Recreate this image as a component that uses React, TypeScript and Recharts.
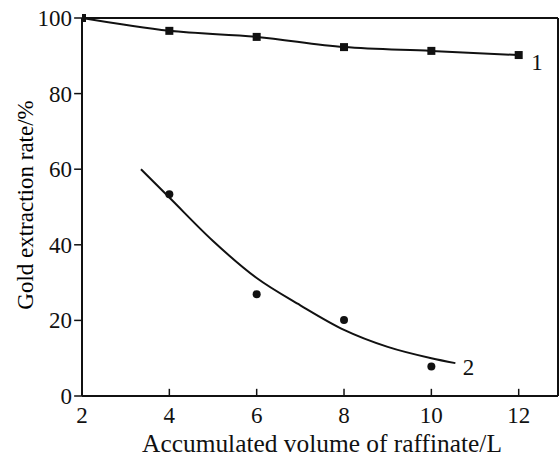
import React from 'react';
import {
  ComposedChart, Line, Scatter, XAxis, YAxis, ReferenceLine, ReferenceDot,
} from 'recharts';

// curve 1: measured points (square markers)
const volume1 = [2, 4, 6, 8, 10, 12];
const rate1 = [100, 96.6, 95.0, 92.3, 91.3, 90.2];

// curve 2: measured points (round markers)
const volume2 = [4, 6, 8, 10];
const rate2 = [53.4, 26.9, 20.1, 7.8];

// curve 2: drawn trend line
const fitVolume = [3.35, 4, 5, 6, 7, 8, 9, 10, 10.55];
const fitRate = [60, 52.5, 41, 31.2, 24, 17.5, 13, 10, 8.7];

const xTicks = [2, 4, 6, 8, 10, 12];
const yTicks = [0, 20, 40, 60, 80, 100];

const curveLabels = [
  { x: 12.42, y: 88.4, text: '1' },
  { x: 10.85, y: 7.8, text: '2' },
];

const series1 = volume1.map((x, i) => ({ x, y: rate1[i] }));
const series2 = volume2.map((x, i) => ({ x, y: rate2[i] }));
const fit2 = fitVolume.map((x, i) => ({ x, y: fitRate[i] }));

const FONT = '"Liberation Serif", "Times New Roman", serif';
const INK = '#111';

const SquareDot = (props: any) => {
  const { cx, cy } = props;
  if (cx == null || cy == null) return null;
  return <rect x={cx - 4} y={cy - 4} width={8} height={8} fill={INK} />;
};

const RoundDot = (props: any) => {
  const { cx, cy } = props;
  return <circle cx={cx} cy={cy} r={4} fill={INK} />;
};

// text placed at a data point, shifted by dx/dy
const pointText = (text: string, dx: number, dy: number, anchor: string, size: number) =>
  (p: any) => (
    <text
      x={p.viewBox.x + p.viewBox.width / 2 + dx}
      y={p.viewBox.y + p.viewBox.height / 2 + dy}
      textAnchor={anchor}
      fill={INK}
      fontSize={size}
      fontFamily={FONT}
    >
      {text}
    </text>
  );

export default function App() {
  return (
    <div style={{ position: 'absolute', left: 0, top: 0, background: '#fff' }}>
      <ComposedChart
        width={559}
        height={459}
        margin={{ top: 18, right: 1, bottom: 0, left: 0 }}
      >
        <XAxis
          dataKey="x"
          type="number"
          domain={[2, 12.9]}
          ticks={xTicks}
          allowDataOverflow
          height={63}
          stroke={INK}
          strokeWidth={2}
          tickLine={false}
          tick={false}
          label={{
            content: () => (
              <text x={322} y={452} textAnchor="middle" fill={INK} fontSize={25.4} fontFamily={FONT}>
                Accumulated volume of raffinate/L
              </text>
            ),
          }}
        />
        <YAxis
          dataKey="y"
          type="number"
          domain={[0, 100]}
          ticks={yTicks}
          width={82}
          stroke={INK}
          strokeWidth={2}
          tickLine={false}
          tick={false}
          label={{
            content: () => (
              <text
                x={33}
                y={205}
                transform="rotate(-90 33 205)"
                textAnchor="middle"
                fill="#000"
                fontSize={23}
                fontFamily={FONT}
              >
                Gold extraction rate/%
              </text>
            ),
          }}
        />
        <ReferenceLine y={100} stroke={INK} strokeWidth={2} />
        <ReferenceLine x={12.9} stroke={INK} strokeWidth={2} />
        {xTicks.slice(1).map((t) => (
          <ReferenceLine
            key={`xm-${t}`}
            segment={[{ x: t, y: 0 }, { x: t, y: 1.9 }]}
            stroke={INK}
            strokeWidth={1.5}
          />
        ))}
        {yTicks.map((t) => (
          <ReferenceLine
            key={`ym-${t}`}
            segment={[{ x: 1.82, y: t }, { x: 2, y: t }]}
            ifOverflow="visible"
            stroke={INK}
            strokeWidth={1.5}
          />
        ))}
        <Line
          data={series1}
          dataKey="y"
          type="monotone"
          stroke={INK}
          strokeWidth={2}
          dot={<SquareDot />}
          activeDot={false}
          isAnimationActive={false}
        />
        <Line
          data={fit2}
          dataKey="y"
          type="monotone"
          stroke={INK}
          strokeWidth={2}
          dot={false}
          activeDot={false}
          isAnimationActive={false}
        />
        <Scatter
          data={series2}
          dataKey="y"
          shape={<RoundDot />}
          isAnimationActive={false}
        />
        {xTicks.map((t) => (
          <ReferenceDot
            key={`xt-${t}`}
            x={t}
            y={0}
            r={0}
            ifOverflow="visible"
            label={{ content: pointText(String(t), 0, 27, 'middle', 23) }}
          />
        ))}
        {yTicks.map((t) => (
          <ReferenceDot
            key={`yt-${t}`}
            x={2}
            y={t}
            r={0}
            ifOverflow="visible"
            label={{ content: pointText(String(t), -10, 8, 'end', 23) }}
          />
        ))}
        {curveLabels.map((l) => (
          <ReferenceDot
            key={l.text}
            x={l.x}
            y={l.y}
            r={0}
            label={{ content: pointText(l.text, 0, 8, 'middle', 23) }}
          />
        ))}
      </ComposedChart>
    </div>
  );
}
